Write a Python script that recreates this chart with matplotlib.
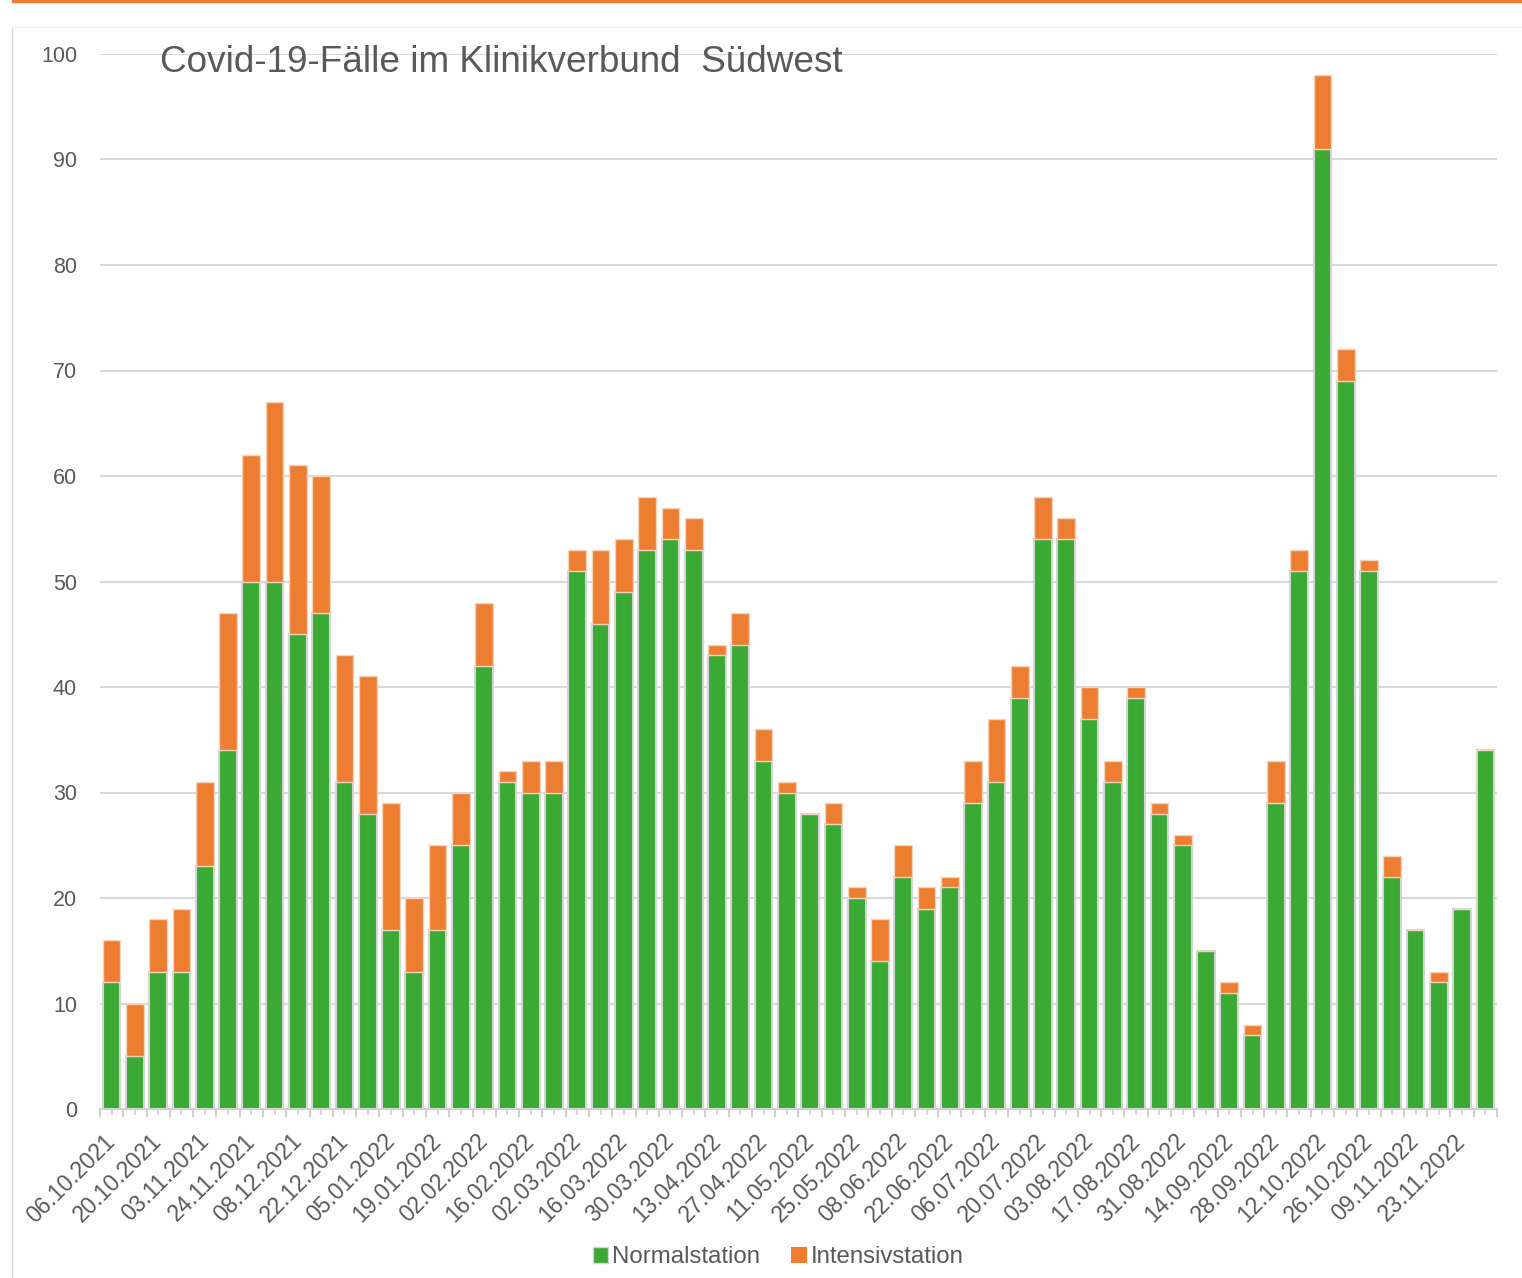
import matplotlib
matplotlib.use("Agg")
import matplotlib.pyplot as plt
from matplotlib.lines import Line2D
from matplotlib.ticker import MultipleLocator
from matplotlib.transforms import ScaledTranslation

plt.rcParams['font.family'] = ['Liberation Sans', 'DejaVu Sans']

dates = ["06.10.2021", "13.10.2021", "20.10.2021", "27.10.2021", "03.11.2021", "10.11.2021",
         "24.11.2021", "01.12.2021", "08.12.2021", "15.12.2021", "22.12.2021", "29.12.2021",
         "05.01.2022", "12.01.2022", "19.01.2022", "26.01.2022", "02.02.2022", "09.02.2022",
         "16.02.2022", "23.02.2022", "02.03.2022", "09.03.2022", "16.03.2022", "23.03.2022",
         "30.03.2022", "06.04.2022", "13.04.2022", "20.04.2022", "27.04.2022", "04.05.2022",
         "11.05.2022", "18.05.2022", "25.05.2022", "01.06.2022", "08.06.2022", "15.06.2022",
         "22.06.2022", "29.06.2022", "06.07.2022", "13.07.2022", "20.07.2022", "27.07.2022",
         "03.08.2022", "10.08.2022", "17.08.2022", "24.08.2022", "31.08.2022", "07.09.2022",
         "14.09.2022", "21.09.2022", "28.09.2022", "05.10.2022", "12.10.2022", "19.10.2022",
         "26.10.2022", "02.11.2022", "09.11.2022", "16.11.2022", "23.11.2022", "30.11.2022"]

normalstation = [12, 5, 13, 13, 23, 34, 50, 50, 45, 47, 31, 28, 17, 13, 17, 25, 42, 31, 30, 30,
                 51, 46, 49, 53, 54, 53, 43, 44, 33, 30, 28, 27, 20, 14, 22, 19, 21, 29, 31, 39,
                 54, 54, 37, 31, 39, 28, 25, 15, 11, 7, 29, 51, 91, 69, 51, 22, 17, 12, 19, 34]

intensivstation = [4, 5, 5, 6, 8, 13, 12, 17, 16, 13, 12, 13, 12, 7, 8, 5, 6, 1, 3, 3,
                   2, 7, 5, 5, 3, 3, 1, 3, 3, 1, 0, 2, 1, 4, 3, 2, 1, 4, 6, 3,
                   4, 2, 3, 2, 1, 1, 1, 0, 1, 1, 4, 2, 7, 3, 1, 2, 0, 1, 0, 0]

title = "Covid-19-Fälle im Klinikverbund  Südwest"

green = "#3AAA35"
orange = "#ED7D31"
textc = "#595959"

fig = plt.figure(figsize=(15.22, 12.78), dpi=100)
ax = fig.add_axes([100/1522, 1 - 1109/1278, 1397/1522, 1055/1278])

x = list(range(len(dates)))
ax.bar(x, normalstation, width=0.76, color=green, edgecolor="#D4D4D4", linewidth=1.5,
       label="Normalstation", zorder=3)
ax.bar(x, intensivstation, bottom=normalstation, width=0.76, color=orange,
       edgecolor="#F3D3BC", linewidth=1.0, label="Intensivstation", zorder=3)

ax.set_xlim(-0.5, len(dates) - 0.5)
ax.set_ylim(0, 100)
ax.yaxis.set_major_locator(MultipleLocator(10))
ax.grid(axis="y", color="#D9D9D9", linewidth=1.5, zorder=0)
ax.set_axisbelow(True)
for s in ["top", "right", "left"]:
    ax.spines[s].set_visible(False)
ax.spines["bottom"].set_color("#D0D0D0")
ax.spines["bottom"].set_linewidth(1.5)

ax.tick_params(axis="y", length=0, labelsize=15.5, labelcolor=textc, pad=16.5)

tick_pos = x[::2]
ax.set_xticks(tick_pos)
ax.set_xticklabels(dates[::2], rotation=45, ha="right", rotation_mode="anchor",
                   fontsize=16.5, color=textc)
ax.tick_params(axis="x", length=0, pad=15)
shift = ScaledTranslation(-8/100, 0, fig.dpi_scale_trans)
for lbl in ax.get_xticklabels():
    lbl.set_transform(lbl.get_transform() + shift)

# boundary tick marks
for b in range(len(dates) + 1):
    ax.plot([b - 0.5, b - 0.5], [0, -0.7], color="#D0D0D0", lw=1.5, clip_on=False, zorder=2)
for c in x:
    ax.plot([c, c], [0, -0.45], color="#D0D0D0", lw=1.2, clip_on=False, zorder=2)

fig.text(160/1522, 1 - 63/1278, title, fontsize=26.6, color=textc, va="center", ha="left")

handles = [plt.Rectangle((0, 0), 1, 1, facecolor=green, edgecolor="#D4D4D4"),
           plt.Rectangle((0, 0), 1, 1, facecolor=orange, edgecolor="none")]
fig.legend(handles, ["Normalstation", "Intensivstation"], loc="center",
           bbox_to_anchor=(778/1522, 1 - 1257/1278), ncol=2, frameon=False,
           fontsize=17.3, handlelength=0.65, handleheight=0.65, handletextpad=0.15,
           columnspacing=1.3, labelcolor=textc)

# decorative frame lines
fig.add_artist(Line2D([13/1522, 1], [1 - 1/1278, 1 - 1/1278], color=orange, lw=2.5))
fig.add_artist(Line2D([12/1522, 12/1522], [0, 1 - 27/1278], color="#D9D9D9", lw=1))
fig.add_artist(Line2D([12/1522, 1], [1 - 27/1278, 1 - 27/1278], color="#F2F2F2", lw=1))

fig.savefig("out.png", dpi=100, facecolor="white")
